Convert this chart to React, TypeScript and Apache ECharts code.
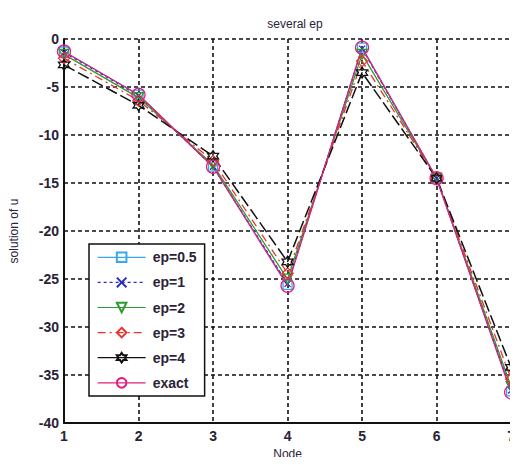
import React, { useEffect, useRef } from "react";
import * as echarts from "echarts";

const nodes = [1, 2, 3, 4, 5, 6, 7];
const seriesNames = ["ep=0.5", "ep=1", "ep=2", "ep=3", "ep=4", "exact"];
const ep05 = [-1.3, -5.8, -13.3, -25.6, -0.9, -14.5, -36.7];
const ep1 = [-1.4, -5.9, -13.3, -25.5, -1.0, -14.5, -36.6];
const ep2 = [-1.6, -6.1, -13.1, -25.0, -1.6, -14.5, -36.2];
const ep3 = [-2.0, -6.4, -12.7, -24.4, -2.3, -14.5, -35.4];
const ep4 = [-2.7, -6.9, -12.2, -23.2, -3.5, -14.5, -34.2];
const exact = [-1.3, -5.8, -13.3, -25.7, -0.9, -14.5, -36.8];
const yTicks = [0, -5, -10, -15, -20, -25, -30, -35, -40];

const HEX =
  "path://M0,-10 L2.9,-5 L8.7,-5 L5.8,0 L8.7,5 L2.9,5 L0,10 L-2.9,5 L-8.7,5 L-5.8,0 L-8.7,-5 L-2.9,-5 Z";
const CROSS = "path://M-10,-10 L10,10 M10,-10 L-10,10";
const TRI_DOWN = "path://M-10,-8 L10,-8 L0,9 Z";

export default function App() {
  const ref = useRef<HTMLDivElement>(null);
  useEffect(() => {
    if (!ref.current) return;
    const chart = echarts.init(ref.current, null, { renderer: "svg" });
    const pair = (arr: number[]) => nodes.map((n, i) => [n, arr[i]]);
    const font = "Arial, 'Liberation Sans', sans-serif";
    const mk = (
      name: string,
      arr: number[],
      color: string,
      symbol: string,
      size: number,
      type: any,
      width = 1.3
    ) => ({
      name,
      type: "line",
      data: pair(arr),
      symbol,
      symbolSize: size,
      showAllSymbol: true,
      clip: false,
      lineStyle: { color, width, type },
      itemStyle: { color: "none", borderColor: color, borderWidth: 1.3 },
      emphasis: { disabled: true },
    });
    chart.setOption({
      animation: false,
      backgroundColor: "#fff",
      title: {
        text: "several ep",
        left: 290,
        top: 13,
        textAlign: "center",
        textStyle: { fontSize: 12, fontWeight: "normal", color: "#2a2236", fontFamily: font },
      },
      grid: { left: 64, top: 39, right: 2, bottom: 37, containLabel: false },
      xAxis: {
        type: "value",
        min: 1,
        max: 7,
        interval: 1,
        name: "Node",
        nameLocation: "middle",
        nameGap: 24,
        nameTextStyle: { fontSize: 12, color: "#2a2236", fontFamily: font },
        axisLine: { show: true, onZero: false, lineStyle: { color: "#111", width: 2 } },
        axisTick: { show: false },
        axisLabel: { fontSize: 14, fontWeight: "bold", color: "#2a2236", fontFamily: font, margin: 6 },
        splitLine: { show: true, lineStyle: { color: "#111", width: 1.6, type: [4, 3] } },
      },
      yAxis: {
        type: "value",
        min: -40,
        max: 0,
        interval: 5,
        name: "solution of u",
        nameLocation: "middle",
        nameGap: 44,
        nameTextStyle: { fontSize: 12, color: "#2a2236", fontFamily: font },
        axisLine: { show: true, onZero: false, lineStyle: { color: "#111", width: 2 } },
        axisTick: { show: false },
        axisLabel: {
          fontSize: 14,
          fontWeight: "bold",
          color: "#2a2236",
          fontFamily: font,
          margin: 5,
          formatter: (v: number) => (yTicks.includes(v) ? String(v) : ""),
        },
        splitLine: { show: true, lineStyle: { color: "#111", width: 1.6, type: [4, 3] } },
      },
      legend: {
        orient: "vertical",
        left: 89,
        top: 244,
        width: 120,
        padding: [6, 8, 6, 8],
        itemWidth: 48,
        itemHeight: 12,
        itemGap: 10.5,
        backgroundColor: "#fff",
        borderColor: "#111",
        borderWidth: 1.5,
        textStyle: { fontSize: 14, fontWeight: "bold", color: "#2a2236", fontFamily: font, padding: [0, 0, 0, 2] },
        data: seriesNames.map((n) =>
          n === "ep=4"
            ? { name: n, lineStyle: { type: "solid", width: 1.3 } }
            : { name: n, lineStyle: { width: 1.2 } }
        ),
      },
      series: [
        mk("ep=0.5", ep05, "#3aa7e8", "rect", 9, "solid"),
        mk("ep=1", ep1, "#2b2bc8", CROSS, 6, [3, 3]),
        mk("ep=2", ep2, "#2f9a2f", TRI_DOWN, 10, "solid"),
        mk("ep=3", ep3, "#e8322e", "diamond", 11, [8, 4, 2, 4]),
        mk("ep=4", ep4, "#111111", HEX, 11, [12, 4], 1.5),
        mk("exact", exact, "#e0207f", "circle", 13, "solid"),
      ],
    });
    return () => chart.dispose();
  }, []);
  return <div ref={ref} style={{ width: 518, height: 465, margin: -8 }} />;
}
